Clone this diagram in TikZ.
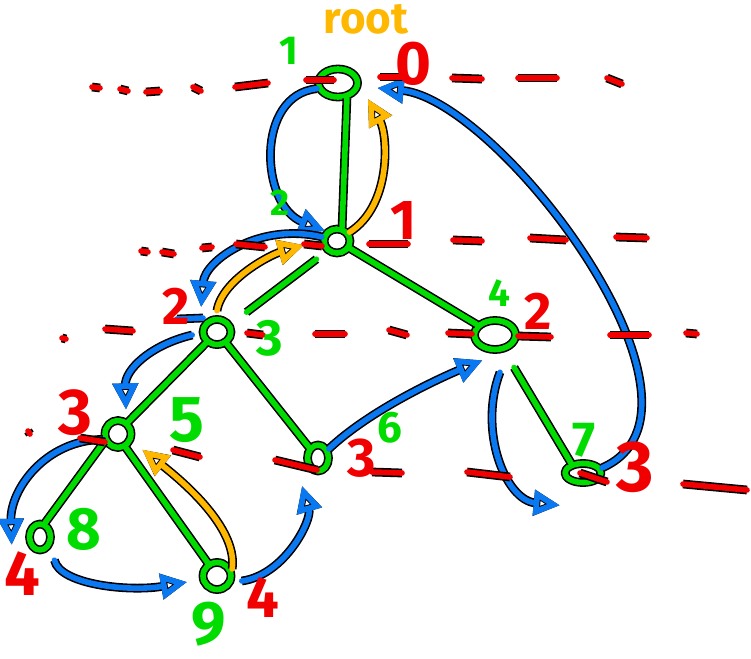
\documentclass[tikz,border=0pt]{standalone}
\usepackage{fontspec}
\setmainfont{Fira Sans}
\usetikzlibrary{arrows.meta, shapes.geometric}
\definecolor{cgreen}{HTML}{00DC00}
\definecolor{cblue}{HTML}{0A78F0}
\definecolor{cred}{HTML}{F00000}
\definecolor{corange}{HTML}{FFB800}
\tikzset{
  ink/.style={draw=#1, line width=3.2pt, line cap=round, line join=round},
  pen/.style={ink=#1, preaction={draw=black, line width=5pt}},
  vertex/.style={ellipse, pen=cgreen, inner sep=0pt},
  edge/.style={pen=cgreen},
  head/.style={-{Triangle[open, length=15pt, width=14pt]}},
  walk/.style={ink=cblue, head, preaction={draw=black, line width=5pt, head}},
  back/.style={ink=corange, head, preaction={draw=black, line width=5pt, head}},
  lvl/.style={pen=cred},
  num/.style={font=\fontsize{#1}{#1}\selectfont\bfseries, inner sep=0pt},
  gnum/.style={num=#1, text=cgreen},
  rnum/.style={num=#1, text=cred},
}
\begin{document}
\begin{tikzpicture}[x=0.02cm, y=-0.02cm]
  \useasboundingbox (0,0) rectangle (751,659);
  % tree
  \node[vertex, minimum width=0.78cm, minimum height=0.56cm] (n1) at (338,83) {};
  \node[vertex, minimum width=0.52cm, minimum height=0.48cm] (n2) at (337,241) {};
  \node[vertex, minimum width=0.56cm, minimum height=0.5cm] (n3) at (217,332) {};
  \node[vertex, minimum width=0.82cm, minimum height=0.58cm] (n4) at (495,335) {};
  \node[vertex, minimum width=0.52cm, minimum height=0.54cm] (n5) at (118,434) {};
  \node[vertex, minimum width=0.42cm, minimum height=0.52cm] (n6) at (318,458) {};
  \node[vertex, minimum width=0.72cm, minimum height=0.38cm] (n7) at (583,473) {};
  \node[vertex, minimum width=0.42cm, minimum height=0.52cm] (n8) at (40,537) {};
  \node[vertex, minimum width=0.56cm, minimum height=0.54cm] (n9) at (217,576) {};
  \draw[edge] (n1.300) -- (n2.70);
  \draw[edge, shorten <=7pt, shorten >=11pt] (n2.225) -- (n3.30);
  \draw[edge] (n2.330) -- (n4.150);
  \draw[edge] (n3.225) -- (n5.50);
  \draw[edge] (n3.310) -- (n6.130);
  \draw[edge, shorten <=11pt] (n4.300) -- (n7.140);
  \draw[edge] (n5.210) -- (n8.70);
  \draw[edge] (n5.300) -- (n9.125);
  % walk down
  \draw[walk] (n1.195) .. controls (255,95) and (260,205) .. (n2.140);
  \draw[walk] (n2.165) .. controls (260,222) and (205,260) .. ([shift={(-4,-14)}]n3.north west);
  \draw[walk] ([shift={(-8,3)}]n3.west) .. controls (150,345) and (125,370) .. ([shift={(8,-8)}]n5.north);
  \draw[walk] (n5.200) .. controls (45,440) and (10,490) .. ([shift={(-15,8)}]n8.west);
  \draw[walk] ([shift={(5,12)}]n8.south east) .. controls (60,585) and (130,592) .. ([shift={(-13,6)}]n9.west);
  \draw[walk] ([shift={(8,5)}]n9.east) .. controls (285,575) and (312,520) .. ([shift={(-16,12)}]n6.south);
  \draw[walk] (n6.40) .. controls (370,410) and (440,378) .. ([shift={(4,13)}]n4.south west);
  \draw[walk] ([shift={(5,20)}]n4.south) .. controls (478,430) and (505,500) .. ([shift={(-23,20)}]n7.south);
  \draw[walk] (n7.15) .. controls (735,410) and (500,100) .. ([shift={(17,5)}]n1.east);
  \draw[pen=cblue] (177,319) -- (203,318);
  % back up
  \draw[back] (n2.35) .. controls (392,205) and (388,135) .. ([shift={(14,4)}]n1.south east);
  \draw[back] ([shift={(0,-6)}]n3.north) .. controls (222,280) and (270,255) .. ([shift={(-17,4)}]n2.west);
  \draw[back] (n9.25) .. controls (237,535) and (200,495) .. ([shift={(13,4)}]n5.south east);
  % depth lines
  \foreach \xa/\ya/\xb/\yb in {
    92/87/100/88, 120/89/128/91, 146/92/160/91, 193/87/201/91, 235/87/268/83,
    306/80/334/80, 380/77/405/77, 452/78/482/79, 518/78/557/78, 607/78/622/84,
    141/251/148/252, 162/252/174/254, 202/248/212/247, 236/244/265/247, 304/244/322/246,
    369/244/408/244, 453/240/482/241, 530/238/566/240, 616/237/647/238,
    62/338/66/339, 105/329/133/331, 247/333/263/335, 315/334/345/334, 389/330/407/335,
    448/333/472/334, 518/336/551/337, 610/335/649/335, 686/333/697/334,
    28/431/30/434, 80/438/105/442, 173/450/200/457, 275/460/317/470, 372/472/402/473,
    467/472/510/477, 580/473/607/482, 683/484/747/490}
    \draw[lvl] (\xa,\ya) -- (\xb,\yb);
  % labels
  \node[num=25, text=corange] (rt) at (366,19) {root};
  \node[gnum=23] (t1) at (289,51) {1};
  \node[gnum=21] (t2) at (280,203) {2};
  \node[gnum=29] (t3) at (270,338) {3};
  \node[gnum=22] (t4) at (499,293) {4};
  \node[gnum=37] (t5) at (187,420) {5};
  \node[gnum=25] (t6) at (390,428) {6};
  \node[gnum=28] (t7) at (584,440) {7};
  \node[gnum=34] (t8) at (84,529) {8};
  \node[gnum=35] (t9) at (209,624) {9};
  \node[rnum=35] (d1) at (413,64) {0};
  \node[rnum=32] (d2) at (404,220) {1};
  \node[rnum=30] (d3) at (176,306) {2};
  \node[rnum=30] (d4) at (538,311) {2};
  \node[rnum=37] (d5) at (75,413) {3};
  \node[rnum=31] (d6) at (362,458) {3};
  \node[rnum=41] (d7) at (635,467) {3};
  \node[rnum=36] (d8) at (22,574) {4};
  \node[rnum=33] (d9) at (263,597) {4};
\end{tikzpicture}
\end{document}
